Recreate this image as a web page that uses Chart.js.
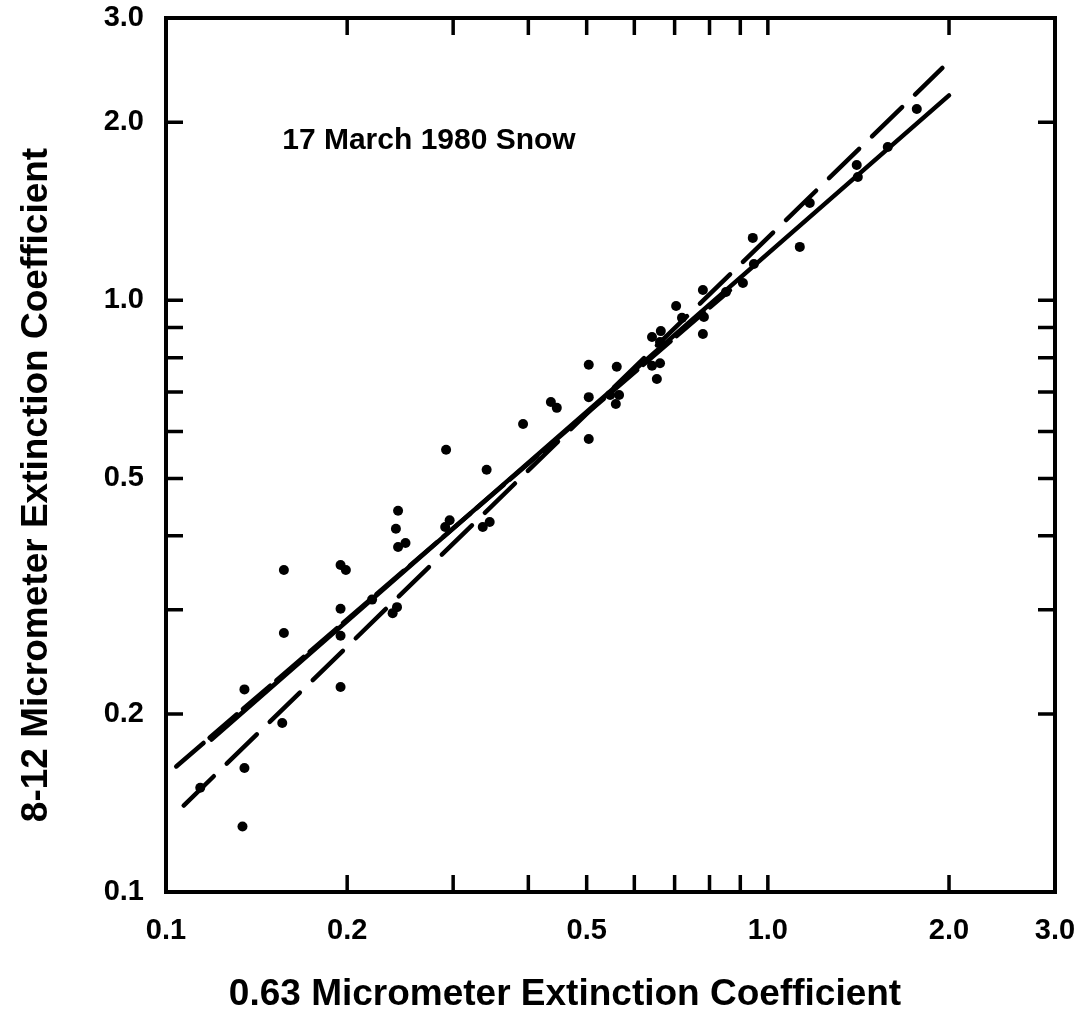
<!DOCTYPE html>
<html>
<head>
<meta charset="utf-8">
<title>17 March 1980 Snow - extinction coefficients</title>
<script src="https://cdn.jsdelivr.net/npm/chart.js@4.4.1/dist/chart.umd.min.js"></script>
<style>
  html, body { margin: 0; padding: 0; background: #fff; }
  #wrap { position: relative; width: 1087px; height: 1028px; }
</style>
</head>
<body>
<div id="wrap"><canvas id="chart"></canvas></div>
<script>
// 0.63 um (x) vs 8-12 um (y) extinction coefficient samples
const visExt = [0.114, 0.134, 0.135, 0.135, 0.156, 0.157, 0.157, 0.195, 0.199, 0.195,
                0.195, 0.195, 0.220, 0.238, 0.242, 0.243, 0.241, 0.243, 0.250, 0.292,
                0.291, 0.296, 0.341, 0.336, 0.345, 0.392, 0.436, 0.446, 0.504, 0.504,
                0.504, 0.561, 0.547, 0.566, 0.559, 0.642, 0.664, 0.662, 0.642, 0.662,
                0.654, 0.704, 0.720, 0.780, 0.783, 0.780, 0.852, 0.909, 0.948, 0.944,
                1.130, 1.405, 1.411, 1.582, 1.768, 1.174];
const irExt = [0.150, 0.129, 0.162, 0.220, 0.193, 0.274, 0.350, 0.357, 0.350, 0.301,
               0.271, 0.222, 0.312, 0.296, 0.303, 0.441, 0.411, 0.383, 0.389, 0.559,
               0.414, 0.425, 0.517, 0.414, 0.422, 0.618, 0.673, 0.658, 0.778, 0.686,
               0.583, 0.772, 0.692, 0.692, 0.668, 0.867, 0.887, 0.850, 0.775, 0.783,
               0.736, 0.978, 0.934, 1.041, 0.937, 0.877, 1.033, 1.070, 1.152, 1.275,
               1.231, 1.693, 1.616, 1.816, 2.106, 1.460];

// fitted lines (end points)
const fitSolidX = [0.119, 2.0];
const fitSolidY = [0.181, 2.22];
const fitLongDashX = [0.107, 1.95];
const fitLongDashY = [0.140, 2.47];
const fitShortDashX = [0.104, 0.865];
const fitShortDashY = [0.163, 1.04];

// axis labels and tick marks
const labelTicks = [0.1, 0.2, 0.5, 1.0, 2.0, 3.0];
const markTicks = [0.2, 0.3, 0.4, 0.5, 0.6, 0.7, 0.8, 0.9, 1.0, 2.0];
const noteText = '17 March 1980 Snow';
const noteX = 0.156;
const noteY = 1.86;
const xTitle = '0.63 Micrometer Extinction Coefficient';
const yTitle = '8-12 Micrometer Extinction Coefficient';

const FONT = '"Liberation Sans", Arial, Helvetica, sans-serif';

const toPoints = (xs, ys) => xs.map((v, i) => ({ x: v, y: ys[i] }));

const fitLine = (xs, ys, dash) => ({
    type: 'scatter',
    data: toPoints(xs, ys),
    showLine: true,
    borderColor: '#000',
    borderWidth: 4.5,
    borderDash: dash,
    borderCapStyle: 'round',
    pointRadius: 0,
    order: 2
});

// keep the plot box where it is, labels may hang over the edges
const noOverhang = s => {
    s.paddingTop = 0;
    s.paddingBottom = 0;
    s.paddingLeft = 0;
    s.paddingRight = 0;
};

// frame, inward tick marks, note and axis titles
const frameDecor = {
    id: 'frameDecor',
    afterDraw(chart) {
        const { ctx, chartArea: a, scales } = chart;
        const x = scales.x, y = scales.y;
        const len = 17;
        ctx.save();
        ctx.strokeStyle = '#000';
        ctx.lineCap = 'butt';
        ctx.lineWidth = 4;
        ctx.strokeRect(a.left, a.top, a.right - a.left, a.bottom - a.top);

        ctx.lineWidth = 3.5;
        ctx.beginPath();
        markTicks.forEach(v => {
            const px = x.getPixelForValue(v);
            ctx.moveTo(px, a.bottom); ctx.lineTo(px, a.bottom - len);
            ctx.moveTo(px, a.top); ctx.lineTo(px, a.top + len);
            const py = y.getPixelForValue(v);
            ctx.moveTo(a.left, py); ctx.lineTo(a.left + len, py);
            ctx.moveTo(a.right, py); ctx.lineTo(a.right - len, py);
        });
        ctx.stroke();

        ctx.fillStyle = '#000';
        ctx.font = 'bold 30px ' + FONT;
        ctx.textAlign = 'left';
        ctx.textBaseline = 'middle';
        ctx.fillText(noteText, x.getPixelForValue(noteX), y.getPixelForValue(noteY));

        ctx.font = 'bold 37px ' + FONT;
        ctx.textAlign = 'center';
        ctx.fillText(xTitle, 565, 995);

        ctx.translate(37, 485);
        ctx.rotate(-Math.PI / 2);
        ctx.fillText(yTitle, 0, 0);
        ctx.restore();
    }
};

const tickFont = { family: FONT, size: 29, weight: 'bold' };

new Chart(document.getElementById('chart'), {
    type: 'scatter',
    data: {
        datasets: [
            {
                data: toPoints(visExt, irExt),
                backgroundColor: '#000',
                borderColor: '#000',
                pointRadius: 5,
                pointBorderWidth: 0,
                order: 1
            },
            fitLine(fitSolidX, fitSolidY, []),
            fitLine(fitLongDashX, fitLongDashY, [42, 18]),
            fitLine(fitShortDashX, fitShortDashY, [36, 8])
        ]
    },
    options: {
        responsive: true,
        maintainAspectRatio: false,
        animation: false,
        layout: { padding: { left: 0, right: 32, top: 18, bottom: 0 } },
        plugins: {
            legend: { display: false },
            tooltip: { enabled: false }
        },
        scales: {
            x: {
                type: 'logarithmic',
                min: 0.1,
                max: 3.0,
                grid: { display: false },
                border: { display: false },
                afterBuildTicks: s => { s.ticks = labelTicks.map(v => ({ value: v })); },
                afterFit: s => { s.height = 136; noOverhang(s); },
                ticks: {
                    color: '#000',
                    font: tickFont,
                    padding: 14,
                    autoSkip: false,
                    maxRotation: 0,
                    callback: v => Number(v).toFixed(1)
                }
            },
            y: {
                type: 'logarithmic',
                min: 0.1,
                max: 3.0,
                grid: { display: false },
                border: { display: false },
                afterBuildTicks: s => { s.ticks = labelTicks.map(v => ({ value: v })); },
                afterFit: s => { s.width = 166; noOverhang(s); },
                ticks: {
                    color: '#000',
                    font: tickFont,
                    padding: 14,
                    autoSkip: false,
                    callback: v => Number(v).toFixed(1)
                }
            }
        }
    },
    plugins: [frameDecor]
});
</script>
</body>
</html>
